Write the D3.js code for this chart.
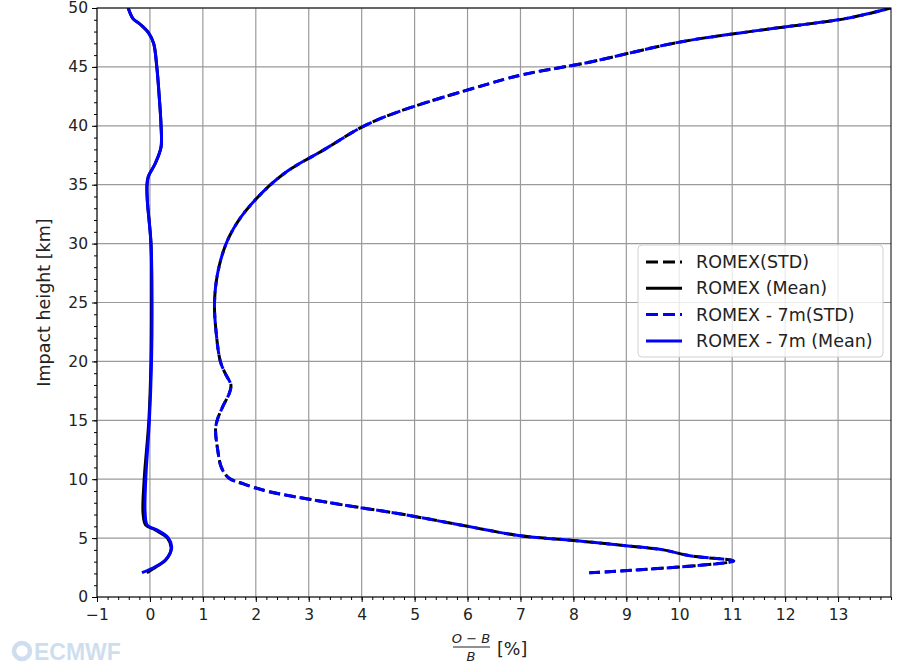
<!DOCTYPE html>
<html>
<head>
<meta charset="utf-8">
<script src="https://cdn.jsdelivr.net/npm/d3@7/dist/d3.min.js"></script>
<style>
  html, body { margin: 0; padding: 0; background: #fff; }
  svg { display: block; font-family: "DejaVu Sans", sans-serif; }
</style>
</head>
<body>
<svg id="chart" width="897" height="664"></svg>
<script>
// ---- data ----
const stdHeights   = [2.05, 3.05, 3.5, 4.0, 4.4, 4.8, 5.2, 6.0, 7.0, 8.0, 9.0, 9.6, 10.1, 11.0, 12.5, 14.2, 15.0, 16.2, 17.3, 18.0, 19.0, 20.0, 22.5, 25.0, 27.5, 30.0, 32.0, 34.0, 36.0, 38.0, 40.0, 41.2, 42.3, 43.3, 44.3, 45.4, 47.1, 48.1, 49.15, 50.0];
const stdRomex     = [8.3, 11.03, 10.2, 9.7, 8.9, 8.0, 7.0, 6.0, 4.8, 3.4, 2.2, 1.77, 1.49, 1.35, 1.28, 1.24, 1.27, 1.38, 1.5, 1.53, 1.42, 1.33, 1.25, 1.22, 1.28, 1.44, 1.68, 2.05, 2.55, 3.3, 4.05, 4.7, 5.45, 6.2, 7.0, 8.3, 10.0, 11.5, 13.2, 14.0];
const stdRomex7m   = [8.3, 11.03, 10.2, 9.7, 8.9, 8.0, 7.0, 6.0, 4.8, 3.4, 2.2, 1.77, 1.49, 1.35, 1.28, 1.24, 1.27, 1.38, 1.5, 1.53, 1.42, 1.33, 1.25, 1.22, 1.28, 1.44, 1.68, 2.05, 2.55, 3.3, 4.05, 4.7, 5.45, 6.2, 7.0, 8.3, 10.0, 11.5, 13.2, 14.0];
const meanHeights  = [2.06, 2.57, 3.14, 4.13, 5.0, 5.7, 6.1, 7.1, 9.9, 15.0, 20.0, 25.0, 30.0, 33.7, 35.0, 35.7, 36.8, 38.2, 40.0, 42.2, 45.0, 47.0, 47.85, 48.6, 49.1, 50.0];
const meanRomex    = [-0.06, 0.12, 0.30, 0.40, 0.33, 0.10, -0.08, -0.13, -0.11, -0.02, 0.02, 0.03, 0.02, -0.05, -0.055, -0.03, 0.10, 0.21, 0.21, 0.18, 0.13, 0.07, -0.02, -0.18, -0.32, -0.41];
const meanRomex7m  = [-0.15, 0.10, 0.29, 0.41, 0.35, 0.13, -0.05, -0.09, -0.08, -0.01, 0.03, 0.04, 0.02, -0.05, -0.055, -0.03, 0.10, 0.21, 0.21, 0.18, 0.13, 0.07, -0.02, -0.18, -0.32, -0.41];
const xTicks = [-1, 0, 1, 2, 3, 4, 5, 6, 7, 8, 9, 10, 11, 12, 13];
const yTicks = [0, 5, 10, 15, 20, 25, 30, 35, 40, 45, 50];
const legendLabels = ["ROMEX(STD)", "ROMEX (Mean)", "ROMEX - 7m(STD)", "ROMEX - 7m (Mean)"];

// ---- layout ----
const svg = d3.select("#chart");
const L = 97, R = 891, T = 8, B = 597;
const x = d3.scaleLinear().domain([-1, 14]).range([L, R]);
const y = d3.scaleLinear().domain([0, 50]).range([B, T]);

// grid
const grid = svg.append("g");
grid.selectAll("line.gx").data(xTicks).join("line")
  .attr("x1", d => x(d)).attr("x2", d => x(d)).attr("y1", T).attr("y2", B)
  .attr("stroke", "#9a9a9a").attr("stroke-width", 1.2);
grid.selectAll("line.gy").data(yTicks).join("line")
  .attr("y1", d => y(d)).attr("y2", d => y(d)).attr("x1", L).attr("x2", R)
  .attr("stroke", "#9a9a9a").attr("stroke-width", 1.2);

// clip
svg.append("clipPath").attr("id", "clip").append("rect")
  .attr("x", L).attr("y", T).attr("width", R - L).attr("height", B - T);

const plot = svg.append("g").attr("clip-path", "url(#clip)");
function mk(hs, vs) { return hs.map((h, i) => [vs[i], h]); }
const line = d3.line().x(d => x(d[0])).y(d => y(d[1])).curve(d3.curveCatmullRom.alpha(0.5));

plot.append("path").attr("d", line(mk(stdHeights, stdRomex)))
  .attr("fill", "none").attr("stroke", "#000").attr("stroke-width", 3)
  .attr("stroke-dasharray", "11,4.9").attr("stroke-dashoffset", 0);
plot.append("path").attr("d", line(mk(meanHeights, meanRomex)))
  .attr("fill", "none").attr("stroke", "#000").attr("stroke-width", 3);
plot.append("path").attr("d", line(mk(stdHeights, stdRomex7m)))
  .attr("fill", "none").attr("stroke", "#0000ff").attr("stroke-width", 3)
  .attr("stroke-dasharray", "11,4.5");
plot.append("path").attr("d", line(mk(meanHeights, meanRomex7m)))
  .attr("fill", "none").attr("stroke", "#0000ff").attr("stroke-width", 3);

// axes
const xAxis = d3.axisBottom(x).tickValues(xTicks).tickSize(5).tickPadding(4)
  .tickFormat(d => d < 0 ? "\u2212" + Math.abs(d) : d);
const gx = svg.append("g").attr("transform", `translate(0,${B})`).call(xAxis);
const xMinor = d3.range(-1, 14.001, 0.2).map(v => +v.toFixed(1));
const gxm = svg.append("g").attr("transform", `translate(0,${B})`)
  .call(d3.axisBottom(x).tickValues(xMinor).tickSize(3).tickFormat(""));
const yAxis = d3.axisLeft(y).tickValues(yTicks).tickSize(5).tickPadding(4);
const gy = svg.append("g").attr("transform", `translate(${L},0)`).call(yAxis);
const yMinor = d3.range(0, 51, 1);
const gym = svg.append("g").attr("transform", `translate(${L},0)`)
  .call(d3.axisLeft(y).tickValues(yMinor).tickSize(3).tickFormat(""));
[gx, gxm, gy, gym].forEach(g => {
  g.select(".domain").remove();
  g.selectAll("line").attr("stroke", "#000").attr("stroke-width", 1);
  g.selectAll("text").attr("font-family", "DejaVu Sans").attr("font-size", 15.5).attr("fill", "#222");
});
gx.selectAll("text").attr("dy", "0.9em");

// frame
svg.append("rect").attr("x", L).attr("y", T).attr("width", R - L).attr("height", B - T)
  .attr("fill", "none").attr("stroke", "#000").attr("stroke-width", 1);

// axis labels
svg.append("text").attr("transform", `translate(50,${(T + B) / 2}) rotate(-90)`)
  .attr("text-anchor", "middle").attr("font-size", 17.5).attr("fill", "#222")
  .text("Impact height [km]");

const xl = svg.append("g").attr("fill", "#222");
xl.append("text").attr("x", 471).attr("y", 643).attr("text-anchor", "middle")
  .attr("font-size", 13).attr("font-style", "italic").text("O \u2212 B");
xl.append("line").attr("x1", 453).attr("x2", 490).attr("y1", 647).attr("y2", 647)
  .attr("stroke", "#222").attr("stroke-width", 1);
xl.append("text").attr("x", 471).attr("y", 661).attr("text-anchor", "middle")
  .attr("font-size", 13).attr("font-style", "italic").text("B");
xl.append("text").attr("x", 497).attr("y", 655).attr("font-size", 17.5).text("[%]");

// legend
const lg = svg.append("g").attr("transform", "translate(638,245)");
lg.append("rect").attr("width", 245).attr("height", 112).attr("rx", 4)
  .attr("fill", "#fff").attr("fill-opacity", 0.8).attr("stroke", "#d0d0d0");
const lgColors = ["#000", "#000", "#0000ff", "#0000ff"];
const lgDash = ["12,5", null, "12,5", null];
legendLabels.forEach((lab, i) => {
  const yy = 17 + i * 26.3;
  lg.append("line").attr("x1", 8).attr("x2", 44).attr("y1", yy).attr("y2", yy)
    .attr("stroke", lgColors[i]).attr("stroke-width", 3)
    .attr("stroke-dasharray", lgDash[i]);
  lg.append("text").attr("x", 58).attr("y", yy + 6).attr("font-size", 17.5)
    .attr("fill", "#222").text(lab);
});

// logo
const logo = svg.append("g").attr("opacity", 0.3);
logo.append("circle").attr("cx", 22).attr("cy", 651).attr("r", 8)
  .attr("fill", "none").attr("stroke", "#5f93c8").attr("stroke-width", 4.5);
logo.append("text").attr("x", 34).attr("y", 660).attr("font-size", 23).attr("font-weight", "bold")
  .attr("fill", "#5f93c8").attr("font-family", "Liberation Sans Narrow, Liberation Sans, sans-serif")
  .text("ECMWF");
</script>
</body>
</html>
